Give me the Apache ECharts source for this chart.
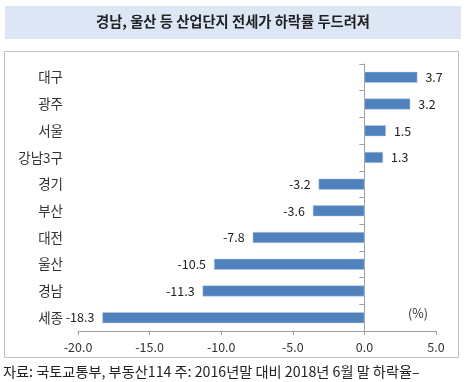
<!DOCTYPE html>
<html><head><meta charset="utf-8">
<script src="https://cdn.jsdelivr.net/npm/echarts@6/dist/echarts.min.js"></script>
<style>html,body{margin:0;padding:0;background:#fff}#c{width:470px;height:382px}</style>
</head><body><div id="c"></div>
<script>
const categories = ['대구','광주','서울','강남3구','경기','부산','대전','울산','경남','세종'];
const values = [3.7, 3.2, 1.5, 1.3, -3.2, -3.6, -7.8, -10.5, -11.3, -18.3];
const xTicks = [-20, -15, -10, -5, 0, 5];
const titleText = '경남, 울산 등 산업단지 전세가 하락률 두드려져';
const unitText = '(%)';
const sourceText = '자료: 국토교통부, 부동산114 주: 2016년말 대비 2018년 6월 말 하락율–';
const FONT = '"Noto Sans CJK KR", "Noto Sans", sans-serif';

const chart = echarts.init(document.getElementById('c'), null, {renderer: 'canvas'});
chart.setOption({
  animation: false,
  textStyle: {fontFamily: FONT},
  grid: {left: 78, right: 34, top: 64, bottom: 51},
  xAxis: {
    type: 'value', min: xTicks[0], max: xTicks[xTicks.length - 1], interval: 5,
    axisLine: {show: true, lineStyle: {color: '#a0a0a0'}},
    axisTick: {show: true, length: 4, lineStyle: {color: '#a0a0a0'}},
    splitLine: {show: false},
    axisLabel: {formatter: v => v.toFixed(1), color: '#333', fontSize: 12.5, margin: 10, fontFamily: FONT}
  },
  yAxis: [{
    type: 'category', data: categories, inverse: true,
    axisLine: {show: true, onZero: true, lineStyle: {color: '#a0a0a0'}},
    axisTick: {show: true, length: 5, lineStyle: {color: '#a0a0a0'}},
    axisLabel: {show: false}
  }, {
    type: 'category', data: categories, inverse: true, position: 'left',
    axisLine: {show: false, onZero: false},
    axisTick: {show: false},
    axisLabel: {color: '#333', fontSize: 13.5, margin: 15, fontFamily: FONT}
  }],
  series: [{
    type: 'bar', yAxisIndex: 0, barWidth: 11,
    data: values.map(v => ({value: v, label: {position: v >= 0 ? 'right' : 'left'}})),
    itemStyle: {color: '#4f81bd', borderColor: '#b8cce4', borderWidth: 0.5},
    label: {
      show: true, fontSize: 12.5, color: '#222', fontFamily: FONT, distance: 8,
      formatter: p => p.value.toFixed(1)
    }
  }],
  graphic: [
    {type: 'rect', shape: {x: 5, y: 6, width: 456, height: 33}, style: {fill: '#dce6f5'}},
    {type: 'text', x: 233, y: 22, style: {text: titleText, font: 'bold 14.3px ' + FONT, fill: '#222', textAlign: 'center', textVerticalAlign: 'middle'}},
    {type: 'rect', shape: {x: 4.5, y: 51.5, width: 454, height: 306}, style: {fill: 'none', stroke: '#c0c0c0', lineWidth: 1}},
    {type: 'text', x: 418, y: 313, style: {text: unitText, font: '12.5px ' + FONT, fill: '#333', textAlign: 'center', textVerticalAlign: 'middle'}},
    {type: 'text', x: 3, y: 372, style: {text: sourceText, font: '14.2px ' + FONT, fill: '#222', textAlign: 'left', textVerticalAlign: 'middle'}}
  ]
});
</script></body></html>
